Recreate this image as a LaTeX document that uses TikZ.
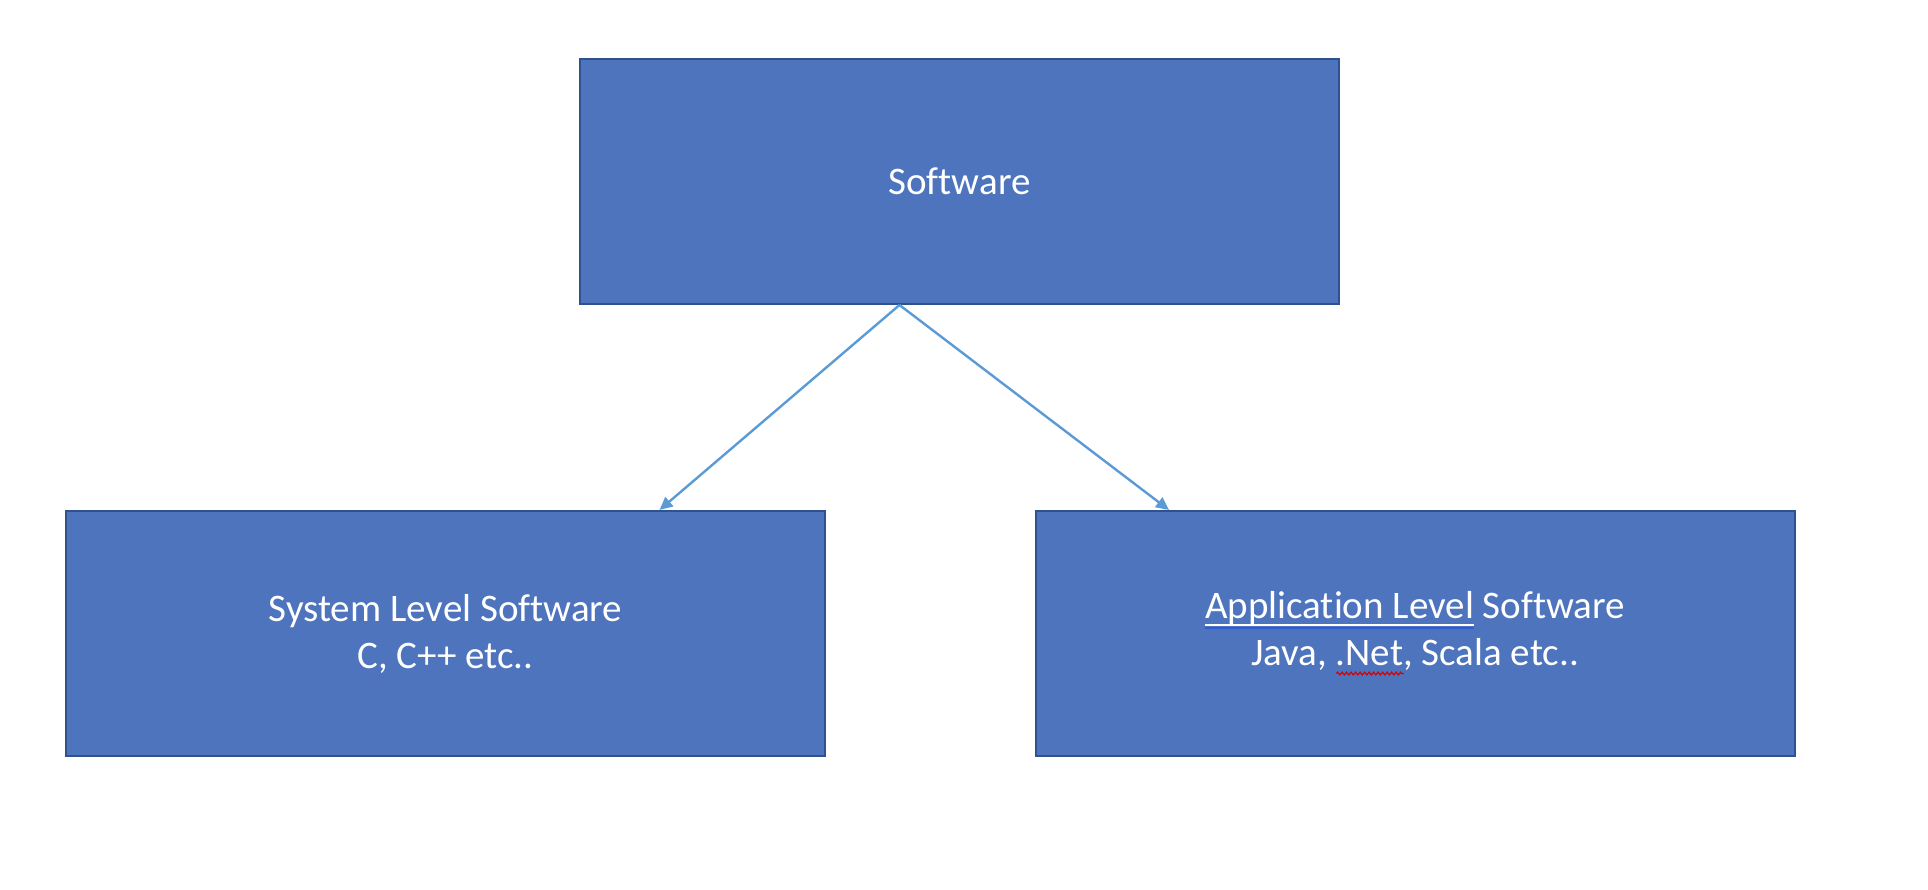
\documentclass[tikz,border=0pt]{standalone}
\usepackage{fontspec}
\setmainfont[Ligatures={NoCommon}]{Carlito}
\usetikzlibrary{arrows.meta,decorations.pathmorphing}
\definecolor{boxfill}{HTML}{4E74BE}
\definecolor{boxline}{HTML}{2F528F}
\definecolor{arrowcol}{HTML}{5B9BD5}
\definecolor{gramblue}{HTML}{2E5BD8}
\newlength\myulw
\newcommand\gramul[1]{\settowidth\myulw{#1}\rlap{\color{white}\rule[-0.2em]{\myulw}{0.06em}}\rlap{\color{gramblue}\rule[-0.28em]{\myulw}{0.06em}}#1}
\newcommand\spellul[1]{\settowidth\myulw{#1}\rlap{\tikz[baseline=0pt]{\draw[red!85!black,line width=1.2pt,decorate,decoration={zigzag,segment length=4.5pt,amplitude=1.4pt}] (0pt,-8pt) -- (\myulw,-8pt);}}#1}
\tikzset{
  box/.style={draw=boxline, line width=2pt, fill=boxfill, minimum width=759pt, minimum height=245pt, inner sep=0pt, align=center, text=white, font=\fontsize{39}{47}\selectfont},
  conn/.style={draw=arrowcol, line width=2.4pt, -{Triangle[length=13pt,width=12pt]}}
}
\begin{document}
\begin{tikzpicture}[x=1pt,y=-1pt]
\useasboundingbox (0,0) rectangle (1928,890);
\node[box] (top) at (959.5,181.5) {Software};
\node[box] (left) at (445.5,633.5) {System Level Software\\C, C++ etc..};
\node[box] (right) at (1415,633.5) {\gramul{Application Level} Software\\Java, \spellul{.Net}, Scala etc..};
\coordinate (s) at ([xshift=-60pt]top.south);
\coordinate (el) at ([xshift=214pt]left.north);
\coordinate (er) at ([xshift=-246pt]right.north);
\draw[conn] (s) -- (el);
\draw[conn] (s) -- (er);
\end{tikzpicture}
\end{document}
